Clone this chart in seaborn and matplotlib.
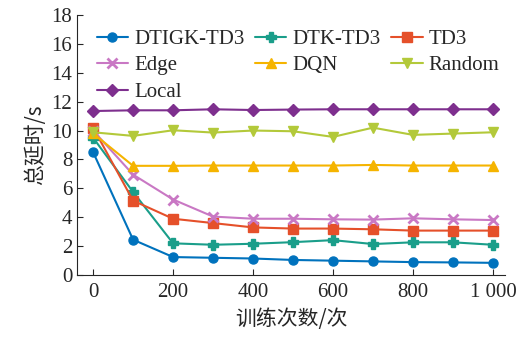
import numpy as np
import pandas as pd
import seaborn as sns
import matplotlib.pyplot as plt

episodes = [0, 100, 200, 300, 400, 500, 600, 700, 800, 900, 1000]
dtigk_td3 = [8.5, 2.45, 1.25, 1.2, 1.15, 1.05, 1.0, 0.95, 0.9, 0.88, 0.85]
dtk_td3 = [9.5, 5.75, 2.2, 2.1, 2.17, 2.28, 2.42, 2.15, 2.27, 2.27, 2.1]
td3 = [10.2, 5.15, 3.9, 3.6, 3.3, 3.22, 3.22, 3.17, 3.08, 3.08, 3.08]
edge = [10.0, 6.95, 5.23, 4.05, 3.9, 3.9, 3.86, 3.84, 3.93, 3.86, 3.81]
dqn = [9.8, 7.56, 7.56, 7.58, 7.58, 7.58, 7.58, 7.62, 7.58, 7.58, 7.58]
random_ = [9.88, 9.63, 10.02, 9.86, 10.0, 9.95, 9.56, 10.2, 9.7, 9.79, 9.88]
local = [11.35, 11.4, 11.4, 11.47, 11.42, 11.45, 11.47, 11.47, 11.47, 11.47, 11.47]

names = ["DTIGK-TD3", "DTK-TD3", "TD3", "Edge", "DQN", "Random", "Local"]
series = [dtigk_td3, dtk_td3, td3, edge, dqn, random_, local]
colors = ["#0072BD", "#1A9E8A", "#E5502A", "#C978C4", "#F5B400", "#B3C93A", "#7E2F8E"]
markers = ["o", "P", "s", "x", "^", "v", "D"]

df = pd.DataFrame({
    "x": episodes * len(names),
    "y": sum(series, []),
    "method": np.repeat(names, len(episodes)),
})

sns.set_style("ticks")
plt.rcParams['font.family'] = ['Liberation Serif', 'Noto Sans CJK SC']

fig = plt.figure(figsize=(5.32, 3.38), dpi=100)
ax = fig.add_axes([0.145, 0.186, 0.804, 0.77])

for name, c, m in zip(names, colors, markers):
    sns.lineplot(data=df[df["method"] == name], x="x", y="y", ax=ax,
                 color=c, marker=m, markersize=6.5, markeredgecolor=c,
                 markeredgewidth=2 if m == "x" else 1,
                 linewidth=1.5, label=name)

ax.set_xlim(-40, 1030)
ax.set_ylim(0, 18)
ax.set_xticks([0, 200, 400, 600, 800, 1000])
ax.set_xticklabels(["0", "200", "400", "600", "800", "1 000"])
ax.set_yticks(range(0, 19, 2))
ax.tick_params(direction="in", labelsize=15, length=4)
ax.tick_params(axis="x", pad=6)
sns.despine(ax=ax)
ax.set_xlabel("训练次数/次", fontsize=15, family=['Noto Sans CJK SC'])
ax.set_ylabel("总延时/s", fontsize=15, family=['Noto Sans CJK SC', 'Liberation Serif'])

# row-major legend order for a 3-column layout
handles, labels = ax.get_legend_handles_labels()
order = [0, 3, 6, 1, 4, 2, 5]
ax.legend([handles[i] for i in order], [labels[i] for i in order],
          ncol=3, loc="upper left", bbox_to_anchor=(0.012, 1.0), frameon=False,
          fontsize=15, handlelength=1.5, handletextpad=0.3, columnspacing=0.5,
          labelspacing=0.33, borderaxespad=0.3)

fig.savefig("out.png", dpi=100)
